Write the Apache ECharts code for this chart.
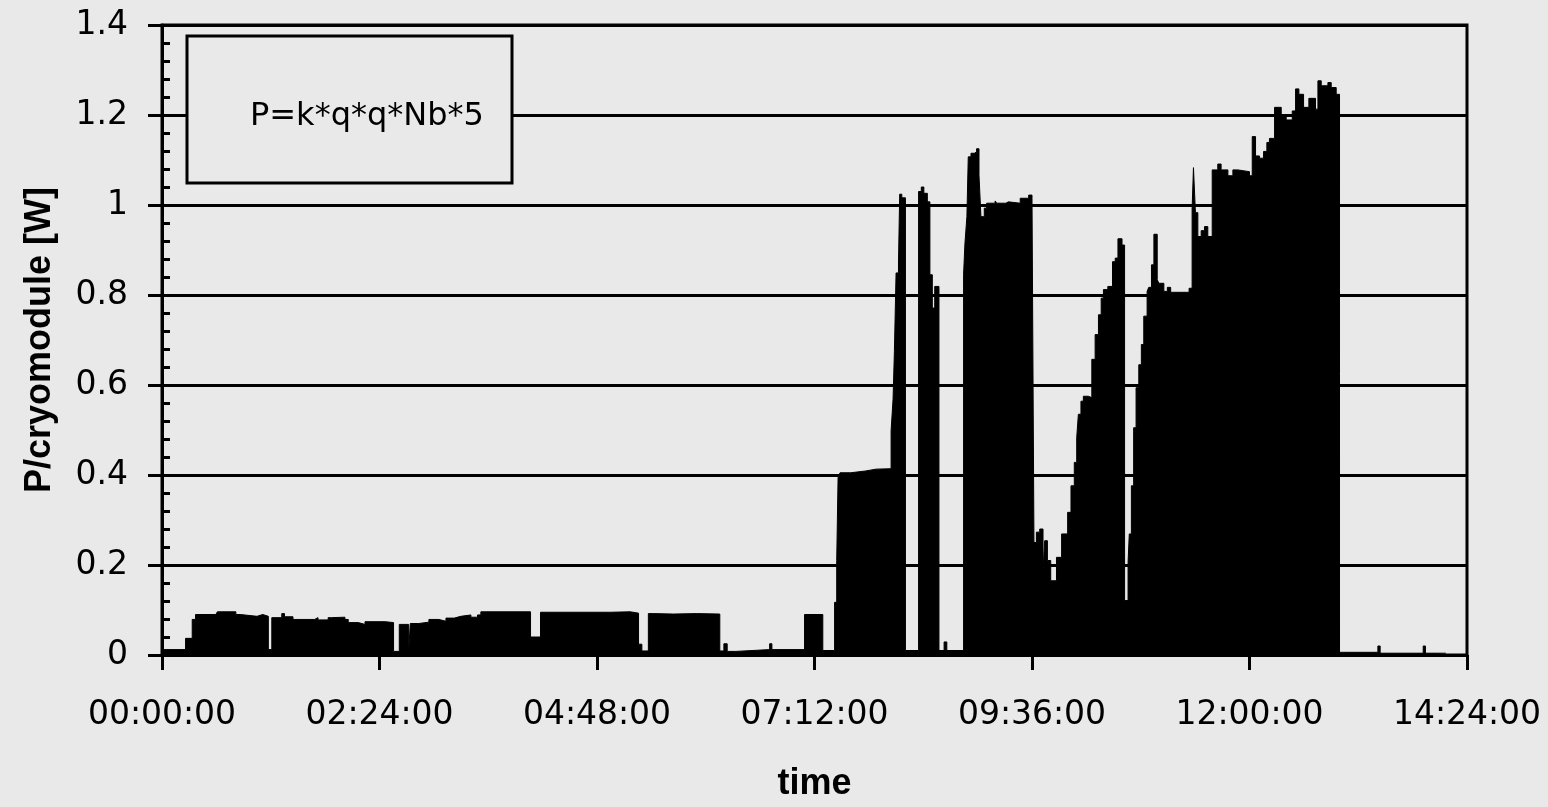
<!DOCTYPE html>
<html>
<head>
<meta charset="utf-8">
<script src="https://cdn.jsdelivr.net/npm/echarts@6/dist/echarts.min.js"></script>
<style>
html,body{margin:0;padding:0;background:#e9e9e9;}
#chart{width:1548px;height:807px;}
</style>
</head>
<body>
<div id="chart"></div>
<script>
// time in minutes since 00:00:00 (start of each step), power per cryomodule [W]
const times = [
  0, 15.6, 20, 22.2, 35.6, 36.7, 48.9, 51.8, 62.9, 66.7, 70.4, 72.7, 79.3, 81.1, 86.7,
  101, 103.3, 110, 112.2, 121.1, 123.3, 130, 134.4, 147.8, 153.3, 157.1, 163.3, 164.4,
  170, 176.7, 183.3, 188, 193.5, 197.9, 204.5, 208.9, 211.1, 244, 250.6, 296.8, 310,
  315.5, 317.7, 322, 325.4, 338.5, 353.9, 369.3, 372, 374.2, 379.9, 402.3, 403.8,
  425.4, 437.5, 445.3, 446.7, 447.6, 448.9, 456, 466, 472.7, 482.7, 484, 484.9, 486,
  487.6, 488.4, 489.8, 492.2, 500.9, 502.7, 504.4, 506.7, 508.4, 510, 511.6, 514.4,
  517.8, 519.6, 530.7, 531.6, 532.9, 533.8, 535.6, 537.8, 539.3, 540.9, 542.2, 544.4,
  546, 551.6, 552.7, 558.7, 560.4, 568.2, 573.8, 576, 577.3, 578.9, 581.1, 583.3,
  584.4, 586.2, 588.4, 592.2, 595.6, 599.6, 601.8, 604, 605.6, 606.7, 608.4, 610,
  613.3, 615.6, 617.8, 620, 621.8, 623.3, 626.2, 629.3, 631.1, 632.9, 635.6, 637.3,
  639.6, 640.4, 641.8, 643.3, 644.9, 646.7, 648.4, 650, 652.2, 653.3, 655.1, 656.7,
  658.9, 660, 663.3, 665.6, 667.8, 680, 682, 682.9, 684.2, 685.8, 688, 690.2, 692.4,
  695.3, 699, 701.2, 705.7, 709, 712.3, 720, 721.8, 724, 726.6, 729.3, 731.5, 733.2,
  736.6, 741, 744.3, 748.3, 750.5, 752.7, 755.8, 759.3, 763.7, 765.3, 767.5, 771.9,
  774.1, 777.4, 779.6, 805, 806.5, 835, 836.5, 850
];
const power = [
  0.012, 0.037, 0.079, 0.09, 0.086, 0.096, 0.09, 0.086, 0.09, 0.086, 0.012, 0.083, 0.092, 0.085, 0.079,
  0.083, 0.078, 0.083, 0.084, 0.079, 0.072, 0.068, 0.074, 0.072, 0.008, 0.068, 0.008, 0.07,
  0.073, 0.079, 0.075, 0.082, 0.086, 0.089, 0.084, 0.089, 0.096, 0.04, 0.095, 0.096, 0.093,
  0.024, 0.009, 0.092, 0.091, 0.092, 0.091, 0.009, 0.025, 0.008, 0.012, 0.025, 0.012,
  0.09, 0.01, 0.117, 0.21, 0.394, 0.405, 0.409, 0.413, 0.414, 0.498, 0.568, 0.675, 0.849,
  0.871, 1.024, 1.016, 0.01, 1.03, 1.04, 1.026, 1.007, 0.845, 0.771, 0.819, 0.01,
  0.029, 0.01, 0.846, 0.915, 0.974, 1.107, 1.115, 1.118, 1.125, 1.066, 0.974, 0.993,
  1.004, 1.009, 1.004, 1.007, 1.004, 1.015, 1.022, 1.015, 0.25, 0.273, 0.28, 0.188,
  0.254, 0.21, 0.165, 0.217, 0.269, 0.317, 0.376, 0.428, 0.483, 0.535, 0.564, 0.575,
  0.572, 0.657, 0.712, 0.756, 0.793, 0.812, 0.819, 0.874, 0.882, 0.925, 0.911, 0.121,
  0.206, 0.269, 0.376, 0.505, 0.594, 0.645, 0.69, 0.753, 0.808, 0.817, 0.867, 0.935,
  0.834, 0.826, 0.808, 0.817, 0.806, 0.815, 0.991, 1.083, 0.983, 0.93, 0.943, 0.952, 0.93,
  1.078, 1.091, 1.078, 1.065, 1.078, 1.074, 1.065, 1.152, 1.109, 1.104, 1.119, 1.139, 1.148,
  1.217, 1.196, 1.189, 1.209, 1.258, 1.246, 1.217, 1.237, 1.213, 1.276, 1.265, 1.272,
  1.261, 1.246, 0.006, 0.02, 0.004, 0.02, 0.004, 0.004
];
const xTickLabels = ['00:00:00', '02:24:00', '04:48:00', '07:12:00', '09:36:00', '12:00:00', '14:24:00'];
const yTickValues = [0, 0.2, 0.4, 0.6, 0.8, 1, 1.2, 1.4];
const formulaText = 'P=k*q*q*Nb*5';
const xName = 'time';
const yName = 'P/cryomodule [W]';

const seriesData = times.map((t, i) => [t, power[i]]);

const chart = echarts.init(document.getElementById('chart'), null, {renderer: 'canvas'});
const labelFont = {fontFamily: 'DejaVu Sans', fontSize: 33, color: '#000'};
chart.setOption({
  backgroundColor: '#e9e9e9',
  animation: false,
  grid: {left: 162, right: 81, top: 25, bottom: 144, show: true, borderColor: '#000', borderWidth: 3, backgroundColor: 'transparent'},
  xAxis: {
    type: 'value', min: 0, max: 864, interval: 144,
    name: xName, nameLocation: 'middle', nameGap: 111,
    nameTextStyle: {fontFamily: 'Liberation Sans', fontWeight: 'bold', fontSize: 36, color: '#000'},
    axisLine: {show: true, onZero: false, lineStyle: {color: '#000', width: 3}},
    axisTick: {show: true, inside: false, length: 15, lineStyle: {color: '#000', width: 3}},
    axisLabel: Object.assign({margin: 44, formatter: v => xTickLabels[Math.round(v / 144)]}, labelFont),
    splitLine: {show: false}
  },
  yAxis: [{
    type: 'value', min: 0, max: 1.4, interval: 0.2,
    name: yName, nameLocation: 'middle', nameGap: 104, nameRotate: 90,
    nameTextStyle: {fontFamily: 'Liberation Sans', fontWeight: 'bold', fontSize: 36, color: '#000'},
    axisLine: {show: true, lineStyle: {color: '#000', width: 3}},
    axisTick: {show: true, inside: false, length: 14, lineStyle: {color: '#000', width: 3}},
    axisLabel: Object.assign({margin: 34, formatter: v => String(yTickValues[Math.round(v / 0.2)])}, labelFont),
    splitLine: {show: true, lineStyle: {color: '#000', width: 3}}
  }, {
    type: 'value', min: 0, max: 1.4, interval: 0.2, position: 'left', offset: 0,
    axisLine: {show: false},
    axisTick: {show: true, inside: true, length: 8, lineStyle: {color: '#000', width: 3}},
    minorTick: {show: true, splitNumber: 5, length: 8, lineStyle: {color: '#000', width: 3}},
    axisLabel: {show: false},
    splitLine: {show: false}
  }],
  series: [{
    type: 'line', step: 'end', data: seriesData, symbol: 'none', z: 3,
    lineStyle: {color: '#000', width: 1},
    areaStyle: {color: '#000', opacity: 1, origin: 0}
  }],
  graphic: [{
    type: 'group', z: 100,
    children: [{
      type: 'rect', shape: {x: 187, y: 36, width: 325, height: 147},
      style: {fill: '#e9e9e9', stroke: '#000', lineWidth: 3}, z: 100
    }, {
      type: 'text', x: 250, y: 117, z: 101,
      style: {text: formulaText, font: '32px "DejaVu Sans"', fill: '#000', verticalAlign: 'middle', align: 'left'}
    }]
  }]
});
</script>
</body>
</html>
